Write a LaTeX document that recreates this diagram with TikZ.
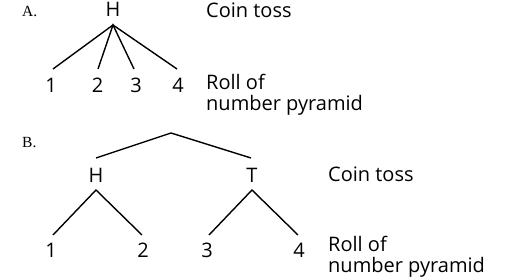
\documentclass[tikz,border=0pt]{standalone}
\usepackage{fontspec}
\setmainfont{Open Sans}
\newfontfamily\serifA{Liberation Serif}
\begin{document}
\begin{tikzpicture}[x=1pt,y=-1pt,
  lab/.style={inner sep=0pt,anchor=base,font=\fontsize{20}{21}\selectfont},
  txt/.style={inner sep=0pt,anchor=base west,font=\fontsize{20}{21}\selectfont},
  part/.style={inner sep=0pt,anchor=base west,font=\serifA\fontsize{15.5}{15.5}\selectfont},
  edge/.style={line width=1.4pt}]
\useasboundingbox (0,0) rectangle (512,280);
% Part A
\node[part] (pa) at (22,17) {A.};
\node[lab] (ah) at (113,17) {H};
\coordinate (aapex) at (113,25);
\node[lab] (a1) at (51,93) {1};
\node[lab] (a2) at (97.5,93) {2};
\node[lab] (a3) at (136,93) {3};
\node[lab] (a4) at (178,93) {4};
\coordinate (e1) at (53,69);
\coordinate (e2) at (98,69);
\coordinate (e3) at (134,69);
\coordinate (e4) at (177,69);
\draw[edge] (e1) -- (aapex) -- (e4);
\draw[edge] (e2) -- (aapex) -- (e3);
\node[txt] (act) at (206,18) {Coin toss};
\node[txt] (arl) at (206,90) {Roll of};
\node[txt] (arn) at (206,111) {number pyramid};
% Part B
\node[part] (pb) at (22,148) {B.};
\coordinate (btop) at (171,133);
\coordinate (bl) at (96,158);
\coordinate (br) at (251,158);
\draw[edge] (bl) -- (btop) -- (br);
\node[lab] (bh) at (96,183) {H};
\node[lab] (bt) at (252,183) {T};
\coordinate (bha) at (96,190);
\coordinate (bta) at (252,190);
\coordinate (f1) at (53,235);
\coordinate (f2) at (142,235);
\coordinate (f3) at (209,235);
\coordinate (f4) at (298,235);
\draw[edge] (f1) -- (bha) -- (f2);
\draw[edge] (f3) -- (bta) -- (f4);
\node[lab] (b1) at (51,258) {1};
\node[lab] (b2) at (143,258) {2};
\node[lab] (b3) at (207,258) {3};
\node[lab] (b4) at (299,258) {4};
\node[txt] (bct) at (328,182) {Coin toss};
\node[txt] (brl) at (328,252) {Roll of};
\node[txt] (brn) at (328,273) {number pyramid};
\end{tikzpicture}
\end{document}
